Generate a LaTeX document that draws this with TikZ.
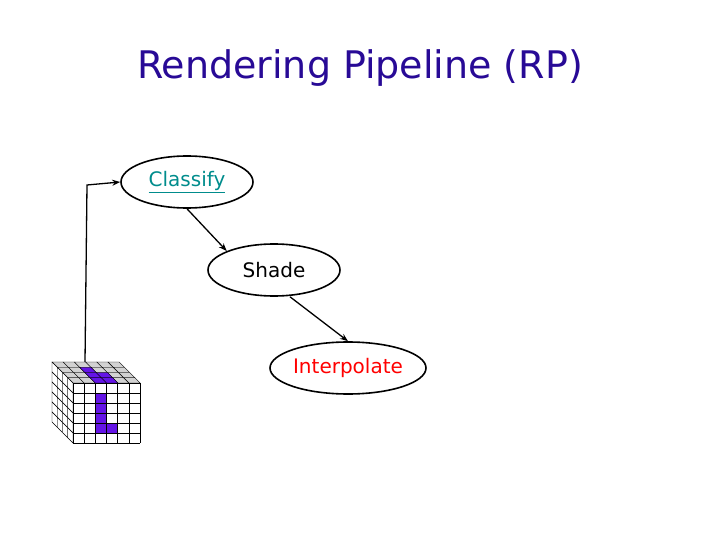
\documentclass[tikz,border=0pt]{standalone}
\usepackage{fontspec}
\setmainfont{DejaVu Sans}
\usetikzlibrary{shapes.geometric,arrows.meta}
\definecolor{titleblue}{RGB}{40,10,150}
\definecolor{linkteal}{RGB}{0,140,140}
\definecolor{cubepurple}{RGB}{100,20,230}
\tikzset{
  stage/.style={draw,ellipse,line width=1.6pt,minimum width=#1,minimum height=52pt,font=\fontsize{20}{24}\selectfont,inner sep=0pt},
  flow/.style={-{Stealth[length=8pt]},line width=1.3pt}
}
\begin{document}
\begin{tikzpicture}[x=1pt,y=-1pt]
\useasboundingbox (0,0) rectangle (720,540);
\node[titleblue,font=\fontsize{38}{44}\selectfont] (title) at (360,68) {Rendering Pipeline (RP)};
\node[stage=132pt] (classify) at (187,182) {\color{linkteal}\underline{Classify}};
\node[stage=132pt] (shade) at (274,270) {Shade};
\node[stage=156pt] (interp) at (348,368) {\color{red}Interpolate};
% volume cube
\begin{scope}
  % top face
  \foreach \k in {0,...,3} {
    \foreach \i in {0,...,5} {
      \pgfmathsetmacro{\xa}{52+\k*5.25+\i*11.2}
      \pgfmathsetmacro{\ya}{362+\k*5.25}
      \fill[gray!35,draw=black,line width=0.4pt] (\xa,\ya) -- ++(11.2,0) -- ++(5.25,5.25) -- ++(-11.2,0) -- cycle;
    }
  }
  \foreach \k/\i in {1/2,2/2,3/2,2/3,3/3} {
    \pgfmathsetmacro{\xa}{52+\k*5.25+\i*11.2}
    \pgfmathsetmacro{\ya}{362+\k*5.25}
    \fill[cubepurple,draw=black,line width=0.4pt] (\xa,\ya) -- ++(11.2,0) -- ++(5.25,5.25) -- ++(-11.2,0) -- cycle;
  }
  % left side
  \foreach \k in {0,...,3} {
    \foreach \j in {0,...,5} {
      \pgfmathsetmacro{\xa}{52+\k*5.25}
      \pgfmathsetmacro{\ya}{362+\k*5.25+\j*10}
      \draw[fill=white,line width=0.4pt] (\xa,\ya) -- ++(5.25,5.25) -- ++(0,10) -- ++(-5.25,-5.25) -- cycle;
    }
  }
  % front face
  \fill[white] (73,383) rectangle (140,443);
  \foreach \i/\j in {2/1,2/2,2/3,2/4,3/4} {
    \fill[cubepurple] (73+\i*11.17,383+\j*10) rectangle ++(11.17,10);
  }
  \foreach \i in {0,...,6} \draw[line width=0.5pt] (73+\i*11.17,383) -- ++(0,60);
  \foreach \j in {0,...,6} \draw[line width=0.5pt] (73,383+\j*10) -- ++(67,0);
  \coordinate (cubetop) at (85,362);
\end{scope}
\coordinate (bend) at (87,185);
\draw[flow] (cubetop) -- (bend) -- (classify.west);
\draw[flow] (classify.south) -- (shade.north west);
\draw[flow] ([xshift=16pt]shade.south) -- (interp.north);
\end{tikzpicture}
\end{document}
